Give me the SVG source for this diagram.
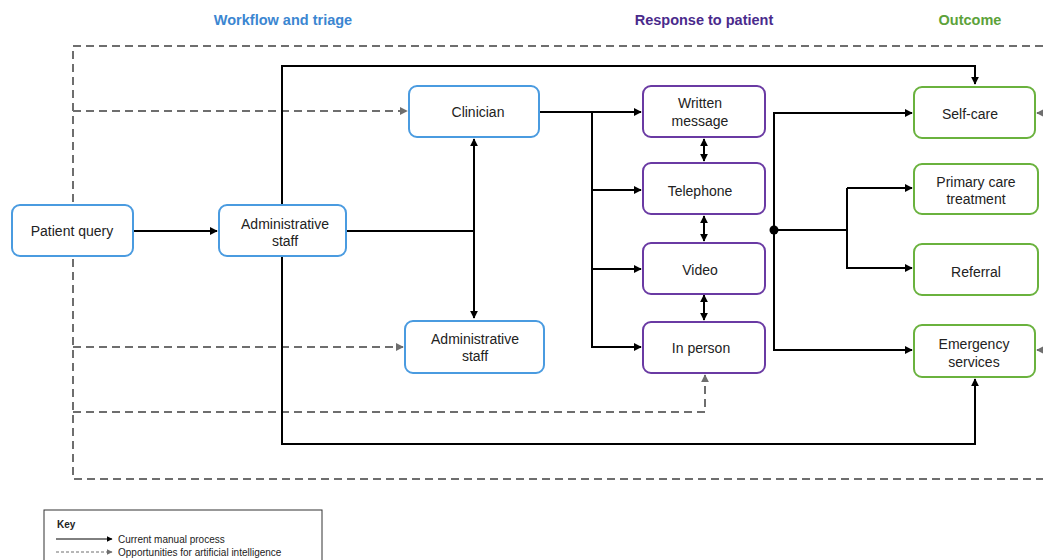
<svg xmlns="http://www.w3.org/2000/svg" width="1043" height="560" viewBox="0 0 1043 560">
<style>
.node rect{fill:#fff;stroke-width:2}
.blue rect{stroke:#4a9be0}
.purple rect{stroke:#6a3aa3}
.green rect{stroke:#6ab23e}
text{font-family:"Liberation Sans",Arial,sans-serif;font-size:14px;fill:#222;text-anchor:middle}
.hdr{font-weight:bold;font-size:14.5px}
.solid{stroke:#000;stroke-width:2;fill:none}
.dash{stroke:#6e6e6e;stroke-width:2;fill:none;stroke-dasharray:8 5}
.key{font-size:10px;text-anchor:start}
</style>
<defs>
<marker id="a" viewBox="0 0 10 10" refX="9" refY="5" markerWidth="4" markerHeight="4" orient="auto-start-reverse" markerUnits="strokeWidth"><path d="M0,0L10,5L0,10z" fill="#000"/></marker>
<marker id="g" viewBox="0 0 10 10" refX="9" refY="5" markerWidth="4" markerHeight="4" orient="auto-start-reverse" markerUnits="strokeWidth"><path d="M0,0L10,5L0,10z" fill="#6e6e6e"/></marker>
<marker id="k" viewBox="0 0 10 10" refX="9" refY="5" markerWidth="6" markerHeight="6" orient="auto" markerUnits="strokeWidth"><path d="M0,0L10,5L0,10z" fill="#000"/></marker>
<marker id="kg" viewBox="0 0 10 10" refX="9" refY="5" markerWidth="6" markerHeight="6" orient="auto" markerUnits="strokeWidth"><path d="M0,0L10,5L0,10z" fill="#6e6e6e"/></marker>
</defs>
<text class="hdr" x="283" y="25" style="fill:#3b86d1">Workflow and triage</text>
<text class="hdr" x="704" y="25" style="fill:#4a2a8c">Response to patient</text>
<text class="hdr" x="970" y="25" style="fill:#5ca23a">Outcome</text>
<g id="connectors">
<path class="dash" d="M1043,46H73V479H1043"/>
<path class="dash" d="M73,111H407" marker-end="url(#g)"/>
<path class="dash" d="M73,347H403" marker-end="url(#g)"/>
<path class="dash" d="M73,412H705V375" marker-end="url(#g)"/>
<path class="dash" d="M1043,113H1037" marker-end="url(#g)"/>
<path class="dash" d="M1043,350H1037" marker-end="url(#g)"/>
<path class="solid" d="M282,204V66H975V84" marker-end="url(#a)"/>
<path class="solid" d="M282,256V444H975V379" marker-end="url(#a)"/>
<path class="solid" d="M133,231H217" stroke-width="1.5" marker-end="url(#a)"/>
<path class="solid" d="M347,231H474"/>
<path class="solid" d="M474,139V318" marker-start="url(#a)" marker-end="url(#a)"/>
<path class="solid" d="M539,112H641" marker-end="url(#a)"/>
<path class="solid" d="M592,112V347H641" marker-end="url(#a)"/>
<path class="solid" d="M592,190H641" marker-end="url(#a)"/>
<path class="solid" d="M592,269H641" marker-end="url(#a)"/>
<path class="solid" d="M704,139V161" marker-start="url(#a)" marker-end="url(#a)"/>
<path class="solid" d="M704,216V241" marker-start="url(#a)" marker-end="url(#a)"/>
<path class="solid" d="M704,295V320" marker-start="url(#a)" marker-end="url(#a)"/>
<path class="solid" d="M912,113H774V350H912" marker-end="url(#a)"/>
<path class="solid" d="M774,113H912" marker-end="url(#a)"/>
<path class="solid" d="M774,230H847"/>
<path class="solid" d="M847,188H912" marker-end="url(#a)"/>
<path class="solid" d="M847,188V268H912" marker-end="url(#a)"/>
<circle cx="774" cy="230" r="4.5" fill="#000"/>
</g>
<g id="patient-query" class="node blue"><rect x="12" y="205" width="121" height="51" rx="8"/><text x="72" y="236">Patient query</text></g>
<g id="admin-staff-1" class="node blue"><rect x="219" y="205" width="127" height="51" rx="8"/><text x="285" y="229">Administrative</text><text x="285" y="246">staff</text></g>
<g id="clinician" class="node blue"><rect x="409" y="86" width="130" height="51" rx="8"/><text x="478" y="117">Clinician</text></g>
<g id="admin-staff-2" class="node blue"><rect x="405" y="321" width="139" height="52" rx="8"/><text x="475" y="344">Administrative</text><text x="475" y="361">staff</text></g>
<g id="written" class="node purple"><rect x="643" y="86" width="122" height="51" rx="8"/><text x="700" y="108">Written</text><text x="700" y="126">message</text></g>
<g id="telephone" class="node purple"><rect x="643" y="163" width="122" height="51" rx="8"/><text x="700" y="196">Telephone</text></g>
<g id="video" class="node purple"><rect x="643" y="243" width="122" height="51" rx="8"/><text x="700" y="275">Video</text></g>
<g id="in-person" class="node purple"><rect x="643" y="322" width="122" height="51" rx="8"/><text x="701" y="353">In person</text></g>
<g id="self-care" class="node green"><rect x="914" y="87" width="121" height="51" rx="8"/><text x="970" y="119">Self-care</text></g>
<g id="primary-care" class="node green"><rect x="914" y="164" width="124" height="50" rx="8"/><text x="976" y="187">Primary care</text><text x="976" y="204">treatment</text></g>
<g id="referral" class="node green"><rect x="914" y="244" width="124" height="51" rx="8"/><text x="976" y="277">Referral</text></g>
<g id="emergency" class="node green"><rect x="914" y="325" width="121" height="52" rx="8"/><text x="974" y="349">Emergency</text><text x="974" y="367">services</text></g>
<g id="key">
<rect x="44" y="510" width="278" height="60" fill="#fff" stroke="#333" stroke-width="1"/>
<text class="key" x="57" y="528" style="font-weight:bold">Key</text>
<path d="M56,539H112" stroke="#000" stroke-width="1" marker-end="url(#k)"/>
<text class="key" x="118" y="543">Current manual process</text>
<path d="M56,552H112" stroke="#6e6e6e" stroke-width="1" stroke-dasharray="3 2" marker-end="url(#kg)"/>
<text class="key" x="118" y="556">Opportunities for artificial intelligence</text>
</g>
</svg>
